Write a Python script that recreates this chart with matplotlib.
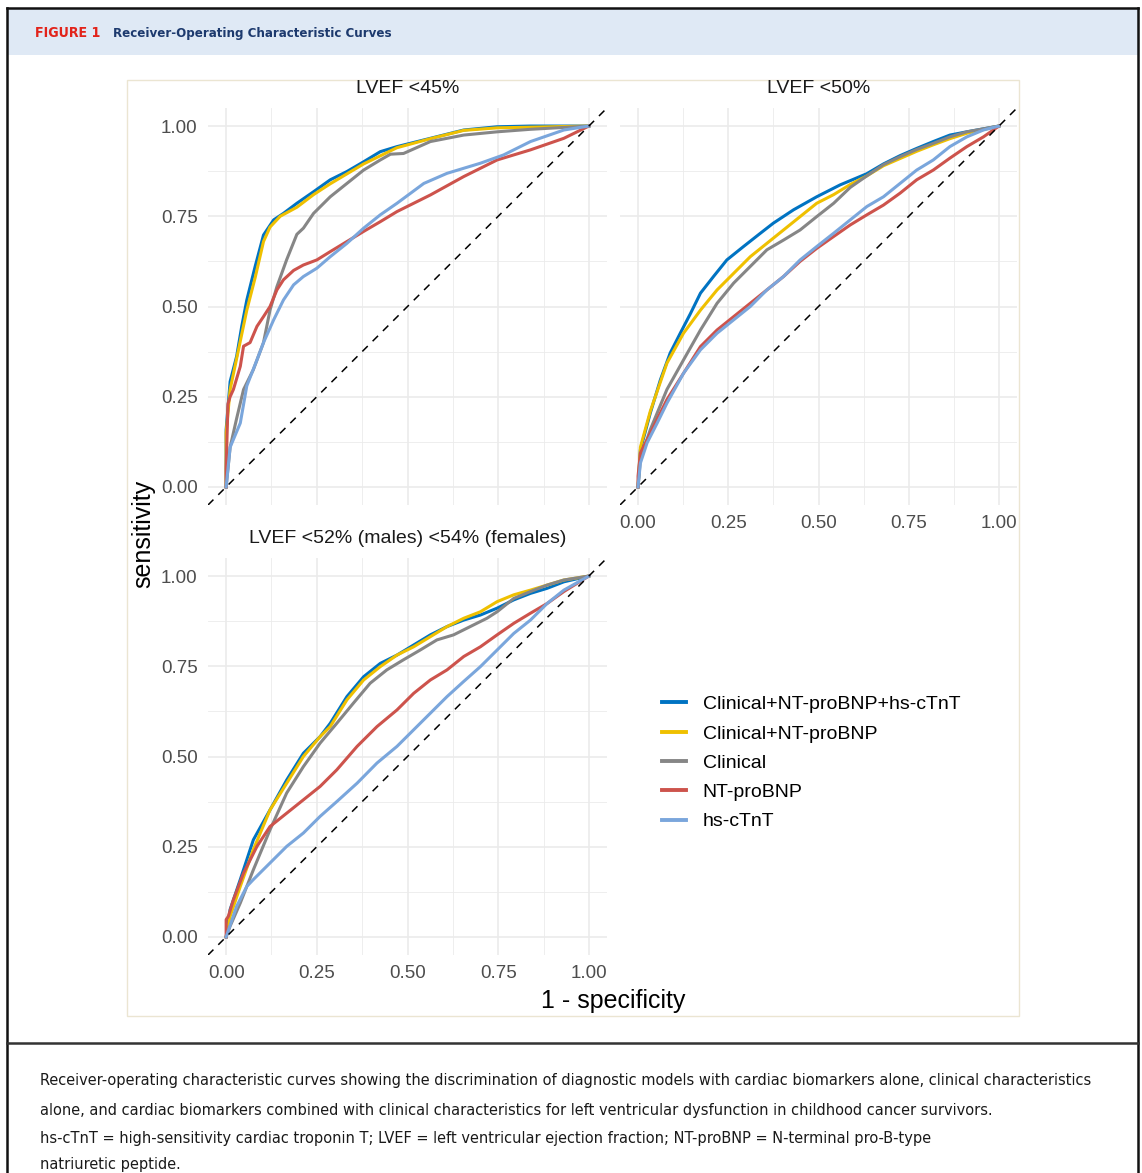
import matplotlib
matplotlib.use("Agg")
import matplotlib.pyplot as plt
from matplotlib import font_manager as fm
from matplotlib.lines import Line2D
from matplotlib.patches import Rectangle

# ---------------- DATA ----------------
ticks = [0.0, 0.25, 0.5, 0.75, 1.0]
tick_labels = ["0.00", "0.25", "0.50", "0.75", "1.00"]
panel_titles = ["LVEF <45%", "LVEF <50%", "LVEF <52% (males) <54% (females)"]
model_names = ["Clinical+NT-proBNP+hs-cTnT", "Clinical+NT-proBNP", "Clinical", "NT-proBNP", "hs-cTnT"]
model_colors = ["#0073C2", "#EFC000", "#868686", "#CD534C", "#7AA6DC"]

# Panel LVEF <45%
fpr45_full = [0, 0, 0.011, 0.029, 0.043, 0.057, 0.080, 0.103, 0.131, 0.158, 0.195, 0.241, 0.287, 0.333, 0.379, 0.425, 0.471, 0.563, 0.655, 0.747, 0.839, 1.0]
tpr45_full = [0, 0.159, 0.292, 0.362, 0.445, 0.518, 0.611, 0.698, 0.740, 0.758, 0.786, 0.818, 0.851, 0.874, 0.901, 0.929, 0.943, 0.966, 0.989, 0.998, 1.0, 1.0]
fpr45_clinbnp = [0, 0, 0.011, 0.057, 0.080, 0.103, 0.121, 0.149, 0.195, 0.241, 0.287, 0.379, 0.471, 0.563, 0.655, 0.747, 1.0]
tpr45_clinbnp = [0, 0.15, 0.27, 0.49, 0.58, 0.68, 0.72, 0.75, 0.775, 0.81, 0.84, 0.895, 0.94, 0.965, 0.988, 0.995, 1.0]
fpr45_clin = [0, 0.011, 0.029, 0.048, 0.075, 0.103, 0.121, 0.140, 0.167, 0.195, 0.213, 0.241, 0.287, 0.333, 0.379, 0.425, 0.453, 0.489, 0.563, 0.655, 0.747, 0.839, 1.0]
tpr45_clin = [0, 0.11, 0.19, 0.27, 0.325, 0.40, 0.49, 0.555, 0.63, 0.70, 0.717, 0.758, 0.804, 0.841, 0.878, 0.906, 0.922, 0.924, 0.957, 0.975, 0.984, 0.991, 1.0]
fpr45_bnp = [0, 0, 0.005, 0.011, 0.020, 0.039, 0.048, 0.066, 0.085, 0.103, 0.121, 0.140, 0.158, 0.186, 0.213, 0.250, 0.287, 0.333, 0.379, 0.425, 0.471, 0.563, 0.655, 0.747, 0.839, 0.931, 1.0]
tpr45_bnp = [0, 0.05, 0.23, 0.25, 0.27, 0.334, 0.39, 0.40, 0.445, 0.472, 0.50, 0.546, 0.574, 0.60, 0.615, 0.629, 0.652, 0.68, 0.708, 0.735, 0.763, 0.809, 0.86, 0.906, 0.934, 0.966, 1.0]
fpr45_tnt = [0, 0.011, 0.039, 0.057, 0.085, 0.103, 0.131, 0.158, 0.186, 0.213, 0.250, 0.287, 0.333, 0.379, 0.425, 0.471, 0.545, 0.609, 0.701, 0.765, 0.839, 0.931, 1.0]
tpr45_tnt = [0, 0.11, 0.177, 0.28, 0.352, 0.40, 0.463, 0.518, 0.56, 0.583, 0.606, 0.638, 0.675, 0.717, 0.754, 0.786, 0.841, 0.869, 0.897, 0.92, 0.957, 0.989, 1.0]

# Panel LVEF <50%
fpr50_full = [0, 0.0065, 0.034, 0.062, 0.089, 0.117, 0.145, 0.173, 0.209, 0.246, 0.292, 0.339, 0.375, 0.431, 0.495, 0.56, 0.634, 0.68, 0.726, 0.772, 0.818, 0.864, 0.911, 1.0]
tpr50_full = [0, 0.103, 0.205, 0.297, 0.371, 0.426, 0.48, 0.537, 0.583, 0.629, 0.666, 0.703, 0.731, 0.768, 0.804, 0.837, 0.868, 0.895, 0.918, 0.938, 0.957, 0.975, 0.984, 1.0]
fpr50_clinbnp = [0, 0.0065, 0.034, 0.080, 0.126, 0.173, 0.219, 0.265, 0.311, 0.357, 0.403, 0.449, 0.495, 0.542, 0.588, 0.634, 0.680, 0.726, 0.772, 0.818, 0.864, 0.911, 1.0]
tpr50_clinbnp = [0, 0.11, 0.21, 0.343, 0.426, 0.49, 0.546, 0.592, 0.638, 0.675, 0.712, 0.749, 0.786, 0.81, 0.838, 0.862, 0.89, 0.91, 0.93, 0.948, 0.965, 0.98, 1.0]
fpr50_clin = [0, 0.0065, 0.034, 0.080, 0.126, 0.173, 0.219, 0.265, 0.311, 0.357, 0.403, 0.449, 0.495, 0.542, 0.588, 0.634, 0.680, 0.726, 0.772, 0.818, 0.864, 0.911, 1.0]
tpr50_clin = [0, 0.076, 0.159, 0.27, 0.352, 0.435, 0.509, 0.565, 0.611, 0.657, 0.684, 0.712, 0.749, 0.786, 0.83, 0.862, 0.893, 0.915, 0.935, 0.952, 0.97, 0.984, 1.0]
fpr50_bnp = [0, 0, 0.0065, 0.034, 0.080, 0.126, 0.173, 0.219, 0.265, 0.311, 0.357, 0.403, 0.449, 0.495, 0.542, 0.588, 0.634, 0.680, 0.726, 0.772, 0.818, 0.864, 0.911, 0.957, 1.0]
tpr50_bnp = [0, 0.03, 0.094, 0.149, 0.242, 0.315, 0.389, 0.435, 0.472, 0.509, 0.546, 0.583, 0.625, 0.661, 0.694, 0.726, 0.754, 0.781, 0.814, 0.851, 0.878, 0.911, 0.943, 0.97, 1.0]
fpr50_tnt = [0, 0.0065, 0.025, 0.053, 0.080, 0.126, 0.173, 0.219, 0.265, 0.311, 0.357, 0.403, 0.449, 0.495, 0.542, 0.588, 0.634, 0.680, 0.726, 0.772, 0.818, 0.864, 0.911, 0.957, 1.0]
tpr50_tnt = [0, 0.066, 0.122, 0.177, 0.232, 0.315, 0.38, 0.426, 0.463, 0.50, 0.546, 0.583, 0.629, 0.666, 0.703, 0.74, 0.777, 0.804, 0.841, 0.878, 0.906, 0.943, 0.97, 0.989, 1.0]

# Panel LVEF <52% (males) <54% (females)
fpr52_full = [0, 0.011, 0.039, 0.075, 0.121, 0.167, 0.213, 0.259, 0.287, 0.333, 0.379, 0.425, 0.471, 0.517, 0.563, 0.609, 0.655, 0.701, 0.747, 0.793, 0.839, 0.885, 0.931, 1.0]
tpr52_full = [0, 0.076, 0.159, 0.269, 0.352, 0.435, 0.509, 0.555, 0.592, 0.666, 0.721, 0.758, 0.781, 0.809, 0.837, 0.86, 0.878, 0.892, 0.911, 0.934, 0.952, 0.966, 0.984, 1.0]
fpr52_clinbnp = [0, 0.011, 0.039, 0.075, 0.121, 0.167, 0.213, 0.259, 0.287, 0.333, 0.379, 0.425, 0.471, 0.517, 0.563, 0.609, 0.655, 0.701, 0.747, 0.793, 0.839, 0.885, 0.931, 1.0]
tpr52_clinbnp = [0, 0.057, 0.14, 0.242, 0.352, 0.426, 0.50, 0.555, 0.583, 0.657, 0.712, 0.749, 0.781, 0.804, 0.832, 0.86, 0.883, 0.901, 0.929, 0.948, 0.961, 0.975, 0.989, 1.0]
fpr52_clin = [0, 0.011, 0.039, 0.075, 0.121, 0.167, 0.213, 0.259, 0.305, 0.351, 0.397, 0.443, 0.489, 0.535, 0.581, 0.627, 0.673, 0.719, 0.747, 0.793, 0.839, 0.885, 0.931, 1.0]
tpr52_clin = [0, 0.03, 0.094, 0.186, 0.297, 0.399, 0.472, 0.537, 0.592, 0.648, 0.703, 0.74, 0.768, 0.795, 0.823, 0.837, 0.86, 0.883, 0.901, 0.938, 0.957, 0.975, 0.989, 1.0]
fpr52_bnp = [0, 0, 0.006, 0.020, 0.048, 0.085, 0.121, 0.167, 0.213, 0.259, 0.305, 0.361, 0.416, 0.471, 0.517, 0.563, 0.609, 0.655, 0.701, 0.747, 0.793, 0.839, 0.885, 0.931, 1.0]
tpr52_bnp = [0, 0.048, 0.057, 0.103, 0.177, 0.251, 0.306, 0.343, 0.38, 0.417, 0.463, 0.528, 0.583, 0.629, 0.675, 0.712, 0.74, 0.777, 0.804, 0.837, 0.869, 0.897, 0.924, 0.957, 1.0]
fpr52_tnt = [0, 0.029, 0.057, 0.075, 0.121, 0.167, 0.213, 0.259, 0.305, 0.361, 0.416, 0.471, 0.517, 0.563, 0.609, 0.655, 0.701, 0.747, 0.793, 0.839, 0.885, 0.931, 1.0]
tpr52_tnt = [0, 0.085, 0.14, 0.159, 0.205, 0.251, 0.288, 0.334, 0.375, 0.426, 0.482, 0.528, 0.574, 0.62, 0.666, 0.708, 0.749, 0.795, 0.841, 0.878, 0.924, 0.961, 1.0]

header_label = "FIGURE 1"
header_title = "Receiver-Operating Characteristic Curves"
caption_lines = [
    "Receiver-operating characteristic curves showing the discrimination of diagnostic models with cardiac biomarkers alone, clinical characteristics",
    "alone, and cardiac biomarkers combined with clinical characteristics for left ventricular dysfunction in childhood cancer survivors.",
    "hs-cTnT = high-sensitivity cardiac troponin T; LVEF = left ventricular ejection fraction; NT-proBNP = N-terminal pro-B-type",
    "natriuretic peptide.",
]

# ---------------- LAYOUT ----------------
W, H = 1142, 1173
fig = plt.figure(figsize=(W / 100, H / 100), dpi=100)
fig.patch.set_facecolor("white")

def fx(px):
    return px / W

def fy(py):
    return 1 - py / H

names = {f.name for f in fm.fontManager.ttflist}
chart_font = "Liberation Sans" if "Liberation Sans" in names else "DejaVu Sans"
if "Liberation Sans Narrow" in names:
    cap_font, cap_stretch = "Liberation Sans Narrow", "normal"
else:
    cap_font, cap_stretch = "DejaVu Sans", "condensed"
plt.rcParams["font.family"] = [chart_font, "DejaVu Sans"]

# frame / header decorations
fig.add_artist(Rectangle((fx(7), fy(55)), fx(1138) - fx(7), fy(8) - fy(55),
                         transform=fig.transFigure, facecolor="#dfe9f5", edgecolor="none", zorder=0))
fig.add_artist(Line2D([fx(7), fx(1138)], [fy(8), fy(8)], color="#111111", lw=1.8, transform=fig.transFigure))
fig.add_artist(Line2D([fx(7), fx(7)], [fy(8), fy(1173)], color="#111111", lw=1.8, transform=fig.transFigure))
fig.add_artist(Line2D([fx(1138), fx(1138)], [fy(8), fy(1173)], color="#111111", lw=1.8, transform=fig.transFigure))
fig.add_artist(Line2D([fx(7), fx(1138)], [fy(1043), fy(1043)], color="#333333", lw=1.8, transform=fig.transFigure))
fig.add_artist(Rectangle((fx(127), fy(1016)), fx(1019) - fx(127), fy(80) - fy(1016),
                         transform=fig.transFigure, facecolor="none", edgecolor="#ebe5d2", lw=1.0, zorder=0))

def panel_rect(x0, y0, x1, y1):
    return [fx(x0), fy(y1), fx(x1) - fx(x0), fy(y0) - fy(y1)]

ax45 = fig.add_axes(panel_rect(208, 108, 607, 505))
ax50 = fig.add_axes(panel_rect(620, 108, 1017, 505))
ax52 = fig.add_axes(panel_rect(208, 558, 607, 955))

panels = [
    (ax45, panel_titles[0],
     [(fpr45_full, tpr45_full), (fpr45_clinbnp, tpr45_clinbnp), (fpr45_clin, tpr45_clin),
      (fpr45_bnp, tpr45_bnp), (fpr45_tnt, tpr45_tnt)], False, True),
    (ax50, panel_titles[1],
     [(fpr50_full, tpr50_full), (fpr50_clinbnp, tpr50_clinbnp), (fpr50_clin, tpr50_clin),
      (fpr50_bnp, tpr50_bnp), (fpr50_tnt, tpr50_tnt)], True, False),
    (ax52, panel_titles[2],
     [(fpr52_full, tpr52_full), (fpr52_clinbnp, tpr52_clinbnp), (fpr52_clin, tpr52_clin),
      (fpr52_bnp, tpr52_bnp), (fpr52_tnt, tpr52_tnt)], True, True),
]

grid_col = "#EBEBEB"
minor_ticks = [0.125, 0.375, 0.625, 0.875]
for ax, title, curves, show_x, show_y in panels:
    ax.set_xlim(-0.05, 1.05)
    ax.set_ylim(-0.05, 1.05)
    for s in ax.spines.values():
        s.set_visible(False)
    ax.set_xticks(ticks)
    ax.set_yticks(ticks)
    ax.set_xticks(minor_ticks, minor=True)
    ax.set_yticks(minor_ticks, minor=True)
    ax.grid(True, which="major", color=grid_col, lw=1.2)
    ax.grid(True, which="minor", color=grid_col, lw=0.6)
    ax.set_axisbelow(True)
    ax.tick_params(which="both", length=0, pad=7.5, labelsize=13.5, labelcolor="#4D4D4D")
    ax.set_xticklabels(tick_labels if show_x else [])
    ax.set_yticklabels(tick_labels if show_y else [])
    ax.set_facecolor("white")
    for (xs, ys), col in zip(curves, model_colors):
        ax.plot(xs, ys, color=col, lw=2.2, solid_joinstyle="round", zorder=2)
    ax.axline((0, 0), (1, 1), color="black", lw=1.1, linestyle=(0, (5, 4.5)), zorder=3)
    ax.text(0.5, 1.048, title, transform=ax.transAxes, ha="center", va="center",
            fontsize=14, color="#1A1A1A")

fig.text(fx(143), fy(534), "sensitivity", rotation=90, ha="center", va="center", fontsize=18, color="black")
fig.text(fx(613), fy(1001), "1 - specificity", ha="center", va="center", fontsize=18, color="black")

handles = [Line2D([], [], color=c, lw=2.8) for c in model_colors]
fig.legend(handles, model_names, loc="center left", bbox_to_anchor=(fx(662), fy(763)),
           frameon=False, fontsize=14, handlelength=1.25, handletextpad=0.85,
           labelspacing=0.6, borderpad=0, borderaxespad=0)

# header + caption text fitted to measured widths
renderer = fig.canvas.get_renderer()

def fit_text(x0, yc, s, target_w, **kw):
    t = fig.text(fx(x0), fy(yc), s, ha="left", va="center", fontsize=12, **kw)
    w = t.get_window_extent(renderer=renderer).width
    t.set_fontsize(12 * target_w / w)
    return t

fit_text(35, 33, header_label, 66, color="#e2231a", fontweight="bold",
         family=[cap_font, "DejaVu Sans"], fontstretch=cap_stretch)
fit_text(113, 33, header_title, 280, color="#1d3a6e", fontweight="bold",
         family=[cap_font, "DejaVu Sans"], fontstretch=cap_stretch)

cap_y = [1081, 1110, 1139, 1165]
t0 = fig.text(fx(40), fy(cap_y[0]), caption_lines[0], ha="left", va="center", fontsize=12,
              family=[cap_font, "DejaVu Sans"], fontstretch=cap_stretch, color="#1a1a1a")
w0 = t0.get_window_extent(renderer=renderer).width
cap_fs = 12 * 1053 / w0
t0.set_fontsize(cap_fs)
for yy, line in zip(cap_y[1:], caption_lines[1:]):
    fig.text(fx(40), fy(yy), line, ha="left", va="center", fontsize=cap_fs,
             family=[cap_font, "DejaVu Sans"], fontstretch=cap_stretch, color="#1a1a1a")

fig.savefig("out.png", dpi=100, facecolor="white")
